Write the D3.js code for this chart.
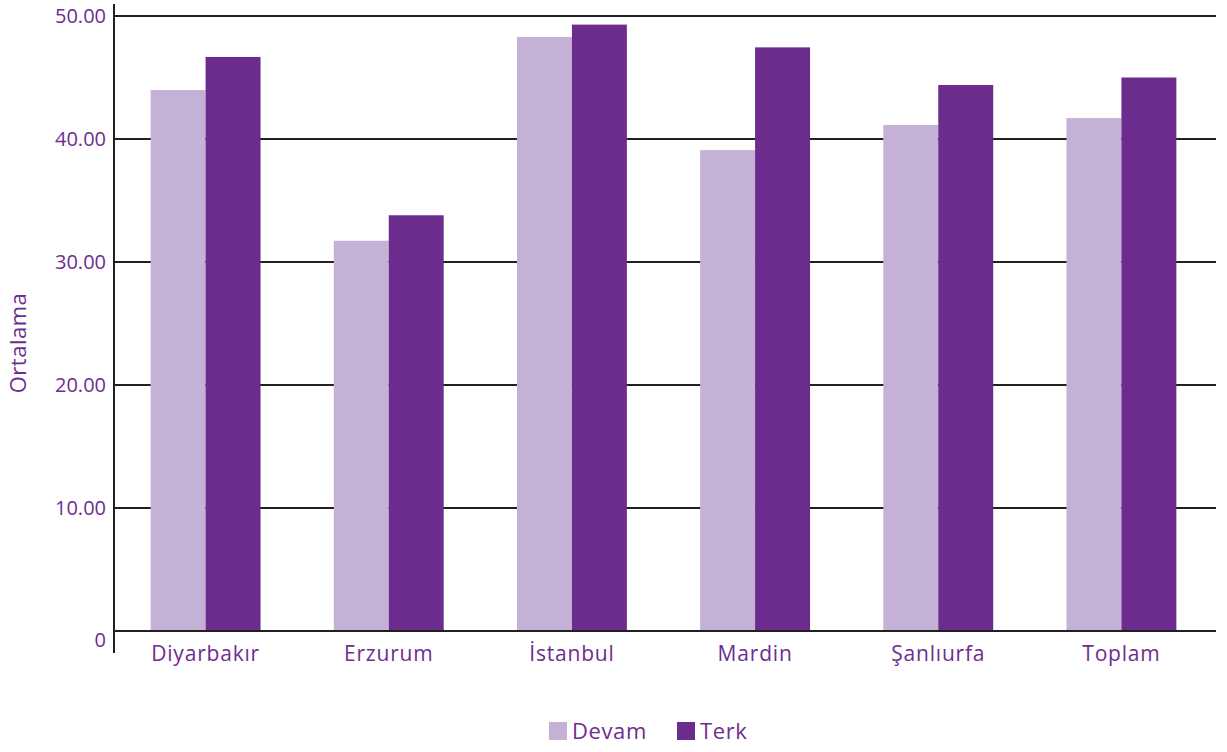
<!DOCTYPE html>
<html>
<head>
<meta charset="utf-8">
<script src="https://cdn.jsdelivr.net/npm/d3@7"></script>
<style>
  html, body { margin: 0; padding: 0; background: #fff; }
  svg text { font-family: "Open Sans", "Noto Sans", sans-serif; fill: #6e2d90; }
</style>
</head>
<body>
<svg id="chart" width="1227" height="752"></svg>
<script>
const categories = ["Diyarbakır", "Erzurum", "İstanbul", "Mardin", "Şanlıurfa", "Toplam"];
const seriesNames = ["Devam", "Terk"];
const devam = [43.98, 31.73, 48.29, 39.10, 41.14, 41.70];
const terk  = [46.67, 33.80, 49.30, 47.45, 44.39, 45.00];
const yTicks = [0, 10, 20, 30, 40, 50];
const yTitle = "Ortalama";
const colors = ["#c5b1d6", "#6c2c8e"];

const svg = d3.select("#chart");
const mLeft = 114, mRight = 1216, mTop = 16, mBottom = 631;

const x = d3.scaleBand().domain(categories).range([mLeft, mRight - 3]).paddingInner(0.4).paddingOuter(0.2);
const xs = d3.scaleBand().domain(seriesNames).range([0, x.bandwidth()]);
const y = d3.scaleLinear().domain([0, 50]).range([mBottom, mTop]);

// gridlines
svg.append("g").selectAll("line").data(yTicks).join("line")
  .attr("x1", mLeft - 1).attr("x2", mRight)
  .attr("y1", d => y(d)).attr("y2", d => y(d))
  .attr("stroke", "#231f20").attr("stroke-width", 2);

// bars
const rows = categories.map((c, i) => ({ c, vals: [devam[i], terk[i]] }));
const g = svg.append("g").selectAll("g").data(rows).join("g")
  .attr("transform", d => `translate(${x(d.c)},0)`);
g.selectAll("rect").data(d => d.vals.map((v, j) => ({ v, s: seriesNames[j], j }))).join("rect")
  .attr("x", d => xs(d.s))
  .attr("width", xs.bandwidth())
  .attr("y", d => y(d.v))
  .attr("height", d => y(0) - y(d.v))
  .attr("fill", d => colors[d.j]);

// redraw baseline over bars
svg.append("line").attr("x1", mLeft - 1).attr("x2", mRight).attr("y1", y(0)).attr("y2", y(0))
  .attr("stroke", "#231f20").attr("stroke-width", 2);

// y axis line
svg.append("line").attr("x1", mLeft).attr("x2", mLeft).attr("y1", 4).attr("y2", 653)
  .attr("stroke", "#231f20").attr("stroke-width", 2);

// y tick labels
const yAxis = d3.axisLeft(y).tickValues(yTicks).tickSize(0).tickPadding(8)
  .tickFormat(d => d === 0 ? "0" : d.toFixed(2));
const ya = svg.append("g").attr("transform", `translate(${mLeft},0)`).call(yAxis);
ya.select(".domain").remove();
ya.selectAll("text").attr("font-size", 20).attr("font-family", null).attr("fill", null)
  .attr("dy", d => d === 0 ? "0.75em" : "0.32em");

// x labels
const xAxis = d3.axisBottom(x).tickSize(0).tickPadding(15);
const xa = svg.append("g").attr("transform", `translate(0,${mBottom})`).call(xAxis);
xa.select(".domain").remove();
xa.selectAll("text").attr("font-size", 21).attr("font-family", null).attr("fill", null)
  .attr("letter-spacing", "0.8px");

// y title
svg.append("text").attr("transform", "translate(26,343) rotate(-90)")
  .attr("text-anchor", "middle").attr("font-size", 22).attr("letter-spacing", "0.5px").text(yTitle);

// legend
const legendX = [549, 677];
const lg = svg.append("g").selectAll("g").data(seriesNames).join("g")
  .attr("transform", (d, i) => `translate(${legendX[i]},722)`);
lg.append("rect").attr("width", 18).attr("height", 18).attr("fill", (d, i) => colors[i]);
lg.append("text").attr("x", 23).attr("y", 17).attr("font-size", 22).attr("letter-spacing", "0.6px").text(d => d);
</script>
</body>
</html>
